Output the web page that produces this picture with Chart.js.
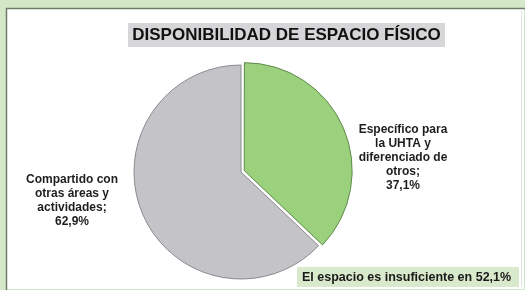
<!DOCTYPE html>
<html>
<head>
<meta charset="utf-8">
<script src="https://cdn.jsdelivr.net/npm/chart.js@4"></script>
<style>
  html, body { margin: 0; padding: 0; background: #fff; }
  #wrap { width: 525px; height: 290px; position: relative; }
</style>
</head>
<body>
<div id="wrap"><canvas id="grafico"></canvas></div>
<script>
const titulo = 'DISPONIBILIDAD DE ESPACIO FÍSICO'
const categorias = ['Específico para la UHTA y diferenciado de otros', 'Compartido con otras áreas y actividades']
const lineasEtiqueta = [
  ['Específico para', 'la UHTA y', 'diferenciado de', 'otros;'],
  ['Compartido con', 'otras áreas y', 'actividades;']
]
const valores = [37.1, 62.9]
const nota = 'El espacio es insuficiente en 52,1%'

const colores = ['#9bd07d', '#c3c3c8']
const bordes = ['#5f8a4a', '#8a8a90']

// separación y altura de cada etiqueta respecto a la porción
const ajusteEtiqueta = [{ gap: 55, k: 0.33 }, { gap: 62, k: 0.68 }]

// marco verde y panel blanco
const fondo = {
  id: 'fondo',
  beforeDraw(chart) {
    const c = chart.ctx
    c.save()
    c.fillStyle = '#d3e8c6'
    c.fillRect(0, 0, chart.width, chart.height)
    c.fillStyle = '#ffffff'
    c.fillRect(7, 9, chart.width - 8, chart.height - 10)
    c.strokeStyle = '#6f7d68'
    c.lineWidth = 1.5
    c.beginPath()
    c.moveTo(6.5, chart.height)
    c.lineTo(6.5, 8.5)
    c.lineTo(chart.width, 8.5)
    c.stroke()
    c.strokeStyle = '#e2e2e2'
    c.lineWidth = 1
    c.beginPath()
    c.moveTo(521.5, 10)
    c.lineTo(521.5, chart.height - 3)
    c.stroke()
    // titulo
    c.fillStyle = '#d6d6d8'
    c.fillRect(128, 23, 317, 24)
    c.fillStyle = '#111'
    c.font = 'bold 17px "Liberation Sans", Arial, sans-serif'
    c.textAlign = 'center'
    c.textBaseline = 'middle'
    c.fillText(titulo, 286.5, 35.5)
    c.restore()
  },
  afterDraw(chart) {
    const c = chart.ctx
    const meta = chart.getDatasetMeta(0)
    c.save()
    c.font = 'bold 12px "Liberation Sans", Arial, sans-serif'
    c.fillStyle = '#1e1e1e'
    c.textAlign = 'center'
    c.textBaseline = 'middle'
    meta.data.forEach((arc, i) => {
      const mid = (arc.startAngle + arc.endAngle) / 2
      const cx = arc.x, cy = arc.y, r = arc.outerRadius
      const dx = Math.cos(mid), dy = Math.sin(mid)
      const lineas = lineasEtiqueta[i].concat([valores[i].toFixed(1).replace('.', ',') + '%'])
      const aj = ajusteEtiqueta[i]
      const x = cx + Math.sign(dx) * (r + aj.gap)
      const yc = cy + dy * r * aj.k
      const paso = 14
      lineas.forEach((t, k) => {
        c.fillText(t, x, yc + (k - (lineas.length - 1) / 2) * paso)
      })
    })
    // nota
    c.fillStyle = '#d9e9cb'
    c.fillRect(297, 267, 222, 20)
    c.fillStyle = '#1a1a1a'
    c.font = 'bold 12.5px "Liberation Sans", Arial, sans-serif'
    c.textAlign = 'left'
    c.fillText(nota, 302, 277.5)
    c.restore()
  }
}

new Chart(document.getElementById('grafico'), {
  type: 'pie',
  data: {
    labels: categorias,
    datasets: [{
      data: valores,
      backgroundColor: colores,
      borderColor: bordes,
      borderWidth: 1,
      offset: [14, 0]
    }]
  },
  options: {
    responsive: true,
    maintainAspectRatio: false,
    animation: false,
    radius: 107,
    layout: { padding: { left: 128, right: 171, top: 59, bottom: 5 } },
    plugins: {
      legend: { display: false },
      tooltip: { enabled: false }
    }
  },
  plugins: [fondo]
})
</script>
</body>
</html>
